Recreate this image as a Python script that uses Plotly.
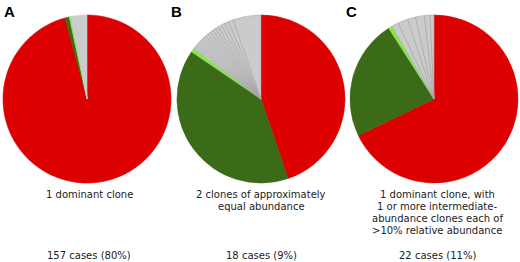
import plotly.graph_objects as go

RED = "#dd0000"
DGREEN = "#3b6a18"
LGREEN = "#86e64a"
GRAY = "#cbcbcb"

# Panel A
a_values = [95.8, 0.8, 0.3, 1.1, 1.0, 1.0]
# Panel B
b_values = [44.8, 39.7, 0.7,
            0.45, 0.45, 0.5, 0.5, 0.5, 0.5, 0.5, 0.55, 0.55, 0.6, 0.6, 0.6, 0.7, 0.7, 0.8, 0.9,
            5.4]
# Panel C
c_values = [67.8, 23.1, 0.7, 1.33, 1.92, 1.58, 1.69, 1.08, 0.75]

panel_letters = ["A", "B", "C"]
captions = [
    ["1 dominant clone"],
    ["2 clones of approximately", "equal abundance"],
    ["1 dominant clone, with", "1 or more intermediate-", "abundance clones each of", ">10% relative abundance"],
]
case_labels = ["157 cases (80%)", "18 cases (9%)", "22 cases (11%)"]

W, H = 520, 262

def colors_for(vals):
    return [RED, DGREEN, LGREEN] + [GRAY] * (len(vals) - 3)

def lines_for(vals, gray_line):
    return [RED, DGREEN, LGREEN] + [gray_line] * (len(vals) - 3)

centers_x = [87, 261, 434]
R = 84
cy = 99
fig = go.Figure()
for i, vals in enumerate([a_values, b_values, c_values]):
    cx = centers_x[i]
    gray_line = GRAY if i == 0 else "#a4a4a4"
    fig.add_trace(go.Pie(
        values=vals,
        sort=False,
        direction="clockwise",
        rotation=0,
        textinfo="none",
        hoverinfo="skip",
        showlegend=False,
        marker=dict(colors=colors_for(vals), line=dict(color=lines_for(vals, gray_line), width=0.6)),
        domain=dict(x=[(cx - R) / W, (cx + R) / W], y=[(H - (cy + R)) / H, (H - (cy - R)) / H]),
    ))

letter_x = [2, 169, 344]
for i, L in enumerate(panel_letters):
    fig.add_annotation(x=letter_x[i] / W, y=1 - 11 / H, xref="paper", yref="paper",
                       text="<b>%s</b>" % L, showarrow=False, xanchor="left", yanchor="middle",
                       font=dict(family="Liberation Sans, Arial", size=15, color="#000"))

cap_x = [89, 261, 437]
for i, lines in enumerate(captions):
    for j, t in enumerate(lines):
        fig.add_annotation(x=cap_x[i] / W, y=1 - (194 + 12.2 * j) / H, xref="paper", yref="paper",
                           text=t, showarrow=False, xanchor="center", yanchor="middle",
                           font=dict(family="DejaVu Sans, Verdana", size=10, color="#222"))
    fig.add_annotation(x=cap_x[i] / W, y=1 - 255 / H, xref="paper", yref="paper",
                       text=case_labels[i], showarrow=False, xanchor="center", yanchor="middle",
                       font=dict(family="DejaVu Sans, Verdana", size=10, color="#222"))

fig.update_layout(width=W, height=H, margin=dict(l=0, r=0, t=0, b=0),
                  paper_bgcolor="white", plot_bgcolor="white")
fig.write_html("out.html", config={"displayModeBar": False},
               post_script="document.body.style.margin='0';document.body.style.overflow='hidden';")
